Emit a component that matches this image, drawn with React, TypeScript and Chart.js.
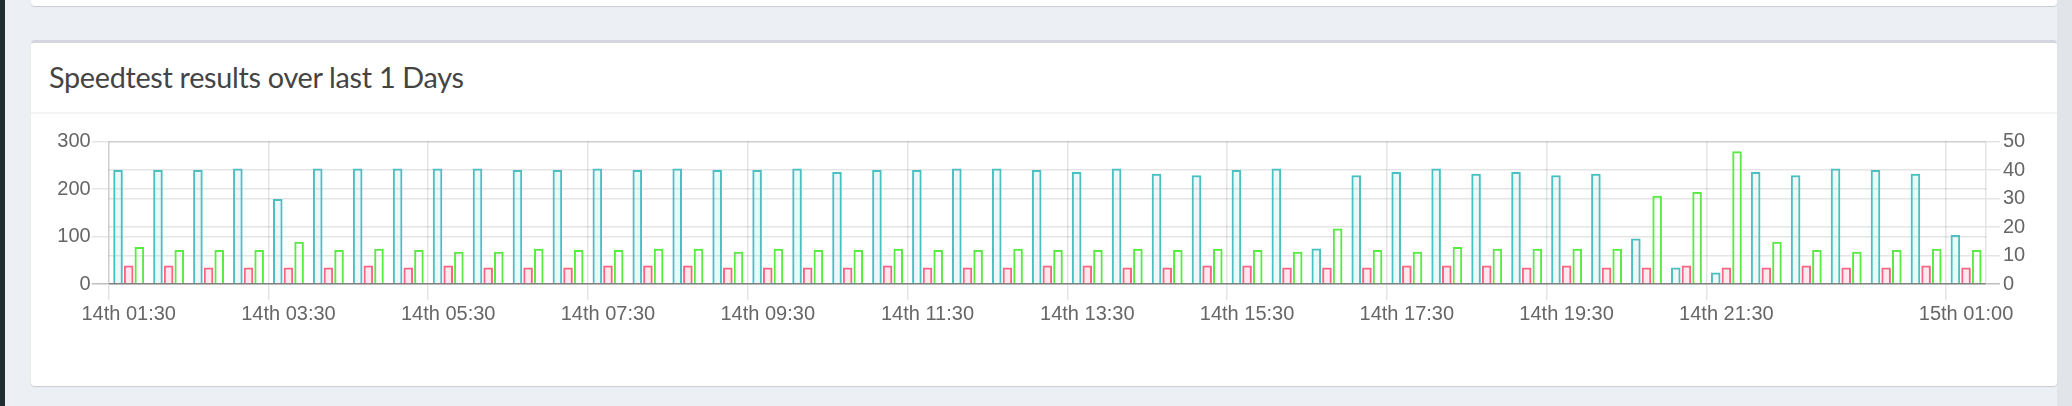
import React, { useEffect, useRef } from 'react';
import { Chart, registerables } from 'chart.js';

Chart.register(...registerables);

const categories = [
  '14th 01:30', '14th 02:00', '14th 02:30', '14th 03:00', '14th 03:30', '14th 04:00',
  '14th 04:30', '14th 05:00', '14th 05:30', '14th 06:00', '14th 06:30', '14th 07:00',
  '14th 07:30', '14th 08:00', '14th 08:30', '14th 09:00', '14th 09:30', '14th 10:00',
  '14th 10:30', '14th 11:00', '14th 11:30', '14th 12:00', '14th 12:30', '14th 13:00',
  '14th 13:30', '14th 14:00', '14th 14:30', '14th 15:00', '14th 15:30', '14th 16:00',
  '14th 16:30', '14th 17:00', '14th 17:30', '14th 18:00', '14th 18:30', '14th 19:00',
  '14th 19:30', '14th 20:00', '14th 20:30', '14th 21:00', '14th 21:30', '14th 22:00',
  '14th 22:30', '14th 23:00', '14th 23:30', '15th 00:30', '15th 01:00',
];

const shownTickLabels = [
  '14th 01:30', '14th 03:30', '14th 05:30', '14th 07:30', '14th 09:30', '14th 11:30',
  '14th 13:30', '14th 15:30', '14th 17:30', '14th 19:30', '14th 21:30', '15th 01:00',
];

const downloadValues = [
  240, 240, 240, 243, 179, 243, 243, 243, 243, 243,
  240, 240, 243, 240, 243, 240, 240, 243, 236, 240,
  240, 243, 243, 240, 236, 243, 232, 229, 240, 243,
  75, 229, 236, 243, 232, 236, 229, 232, 96, 35,
  24, 236, 229, 243, 240, 232, 103,
];

const uploadValues = [
  39, 39, 35, 35, 35, 35, 39, 35, 39, 35,
  35, 35, 39, 39, 39, 35, 35, 35, 35, 39,
  35, 35, 35, 39, 39, 35, 35, 39, 39, 35,
  35, 35, 39, 39, 39, 35, 39, 35, 35, 39,
  35, 35, 39, 35, 35, 39, 35,
];

const pingValues = [
  13.0, 11.9, 11.9, 11.9, 14.8, 11.9, 12.4, 11.9, 11.3, 11.3,
  12.4, 11.9, 11.9, 12.4, 12.4, 11.3, 12.4, 11.9, 11.9, 12.4,
  11.9, 11.9, 12.4, 11.9, 11.9, 12.4, 11.9, 12.4, 11.9, 11.3,
  19.5, 11.9, 11.3, 13.0, 12.4, 12.4, 12.4, 12.4, 31.0, 32.3,
  46.6, 14.8, 11.9, 11.3, 11.9, 12.4, 11.9,
];

const leftAxisMax = 300;
const leftAxisStep = 100;
const rightAxisMax = 50;
const rightAxisStep = 10;

const TICK_FONT = { family: "'Liberation Sans', Arial, Helvetica, sans-serif", size: 20 };
const GRID = 'rgba(0,0,0,0.1)';
const ZERO = 'rgba(0,0,0,0.25)';

export default function App() {
  const canvasRef = useRef<HTMLCanvasElement>(null);

  useEffect(() => {
    const shown = new Set(shownTickLabels);
    const xColor = (ctx: any) => {
      if (ctx.type !== 'tick') return 'rgba(0,0,0,0)';
      return shown.has(categories[ctx.index]) ? GRID : 'rgba(0,0,0,0)';
    };
    const yColor = (ctx: any) => (ctx.tick && ctx.tick.value === 0 ? ZERO : GRID);

    const chart = new Chart(canvasRef.current as HTMLCanvasElement, {
      type: 'bar',
      data: {
        labels: categories,
        datasets: [
          {
            label: 'Download',
            data: downloadValues,
            yAxisID: 'y',
            backgroundColor: 'rgba(75,192,192,0.1)',
            borderColor: 'rgb(75,192,192)',
            borderWidth: 2,
          },
          {
            label: 'Upload',
            data: uploadValues,
            yAxisID: 'y',
            backgroundColor: 'rgba(255,99,132,0.14)',
            borderColor: 'rgb(255,99,132)',
            borderWidth: 2,
          },
          {
            label: 'Ping',
            data: pingValues,
            yAxisID: 'y1',
            backgroundColor: 'rgba(255,255,255,0)',
            borderColor: 'rgb(88,236,66)',
            borderWidth: 2,
          },
        ],
      },
      options: {
        animation: false,
        responsive: false,
        maintainAspectRatio: false,
        layout: { padding: { top: 21.5, left: 0, right: 0, bottom: 0 } },
        plugins: { legend: { display: false }, tooltip: { enabled: false } },
        scales: {
          x: {
            offset: true,
            grid: {
              offset: true,
              color: xColor,
              tickColor: xColor,
              lineWidth: 1.5,
              tickLength: 16,
            },
            border: { display: true, color: GRID, width: 1.5 },
            ticks: {
              autoSkip: false,
              maxRotation: 0,
              minRotation: 0,
              padding: 2,
              color: '#666',
              font: TICK_FONT,
              callback: (_v: any, i: number) => (shown.has(categories[i]) ? categories[i] : ''),
            },
            afterFit: (s: any) => {
              s.height = 56;
            },
          },
          y: {
            position: 'left',
            min: 0,
            max: leftAxisMax,
            grid: { color: yColor, tickColor: yColor, lineWidth: 1.5, tickLength: 17 },
            border: { display: true, color: GRID, width: 1.5 },
            ticks: { stepSize: leftAxisStep, padding: 1, color: '#666', font: TICK_FONT },
            afterFit: (s: any) => {
              s.width = 68.7;
            },
          },
          y1: {
            position: 'right',
            min: 0,
            max: rightAxisMax,
            grid: { color: yColor, tickColor: yColor, lineWidth: 1.5, tickLength: 14 },
            border: { display: true, color: GRID, width: 1.5 },
            ticks: { stepSize: rightAxisStep, padding: 3, color: '#666', font: TICK_FONT },
            afterFit: (s: any) => {
              s.width = 54;
            },
          },
        },
      },
    } as any);
    return () => chart.destroy();
  }, []);

  return (
    <div
      style={{
        position: 'absolute',
        left: 0,
        top: 0,
        width: 2072,
        height: 406,
        overflow: 'hidden',
        background: '#ecf0f5',
      }}
    >
      <div style={{ position: 'absolute', left: 0, top: 0, width: 5, height: 406, background: '#222d32' }} />
      <div style={{ position: 'absolute', left: 2057, top: 0, width: 15, height: 406, background: '#e1e4e9' }} />
      <div
        style={{
          position: 'absolute',
          left: 31,
          top: -20,
          width: 2026,
          height: 26,
          background: '#fff',
          borderRadius: 4,
          boxShadow: '0 1px 1px rgba(0,0,0,0.15)',
        }}
      />
      <div
        style={{
          position: 'absolute',
          left: 31,
          top: 40,
          width: 2026,
          height: 346,
          boxSizing: 'border-box',
          background: '#fff',
          borderTop: '3px solid #d2d6de',
          borderRadius: 4,
          boxShadow: '0 1px 1px rgba(0,0,0,0.15)',
        }}
      />
      <div style={{ position: 'absolute', left: 31, top: 112, width: 2026, height: 2, background: '#f4f4f4' }} />
      <div
        style={{
          position: 'absolute',
          left: 49,
          top: 59.9,
          fontFamily: 'Lato, sans-serif',
          fontSize: 28.8,
          letterSpacing: -0.3,
          lineHeight: 1.2,
          color: '#444',
          whiteSpace: 'nowrap',
        }}
      >
        Speedtest results over last 1 Days
      </div>
      <canvas
        ref={canvasRef}
        width={2000}
        height={220}
        style={{ position: 'absolute', left: 40, top: 120, width: 2000, height: 220 }}
      />
    </div>
  );
}
